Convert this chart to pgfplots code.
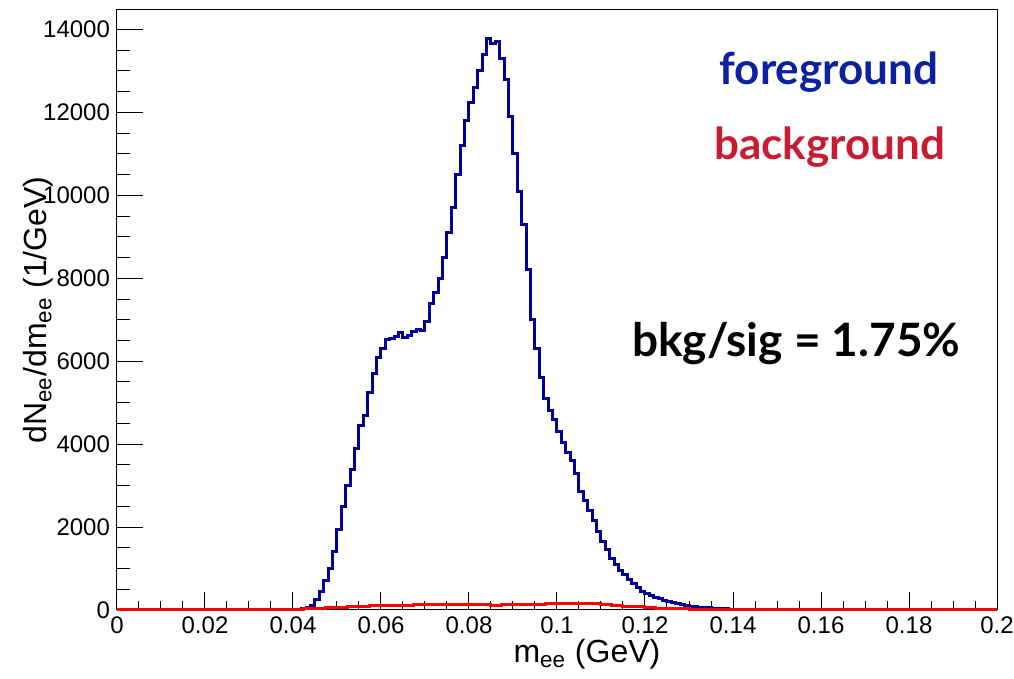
\documentclass[border=0pt]{standalone}
\usepackage{fontspec}
\setmainfont{Liberation Sans}
\newfontfamily\annfont{Lato}
\usepackage{pgfplots}
\pgfplotsset{compat=1.18}
\definecolor{histblue}{RGB}{0,0,153}
\definecolor{histred}{RGB}{255,0,0}
\definecolor{fgblue}{RGB}{12,32,160}
\definecolor{bgred}{RGB}{200,28,50}
\pgfplotsset{
  rootframe/.style={
    scale only axis, width=440pt, height=300pt,
    xmin=0, xmax=0.2, ymin=0, ymax=14470,
    axis line style={line width=0.5pt, black},
    tick align=inside, xtick pos=bottom, ytick pos=left,
    every tick/.style={black, line width=0.5pt},
    scaled x ticks=false, scaled y ticks=false,
    /pgf/number format/assume math mode=true,
    /pgf/number format/set thousands separator={},
    tick label style={font=\fontsize{12}{14}\selectfont},
    clip=false,
  }
}
\begin{document}
\begin{tikzpicture}
\useasboundingbox (-58.5pt,-34.5pt) rectangle (448.5pt,305pt);
% axis with x ticks
\begin{axis}[rootframe,
  xtick={0,0.02,0.04,0.06,0.08,0.1,0.12,0.14,0.16,0.18,0.2},
  xticklabels={0,0.02,0.04,0.06,0.08,0.1,0.12,0.14,0.16,0.18,0.2},
  minor x tick num=3,
  ytick=\empty,
  major tick length=9pt, minor tick length=4.5pt,
]
\end{axis}
% axis with y ticks and data
\begin{axis}[rootframe,
  xtick=\empty,
  ytick={0,2000,4000,6000,8000,10000,12000,14000},
  yticklabels={0,2000,4000,6000,8000,10000,12000,14000},
  minor y tick num=3,
  major tick length=13pt, minor tick length=6.5pt,
  xlabel={m$_{\mathrm{ee}}$ (GeV)},
  ylabel={dN$_{\mathrm{ee}}$/dm$_{\mathrm{ee}}$ (1/GeV)},
  every axis x label/.style={at={(axis description cs:0.534,-0.088)}, anchor=base, font=\fontsize{16}{18}\selectfont},
  every axis y label/.style={at={(axis description cs:-0.09,0.5)}, rotate=90, anchor=center, font=\fontsize{16}{18}\selectfont},
]
\addplot[histblue, line width=1.5pt, const plot mark left] table {
x y
0 0
0.035 0
0.038 5
0.039 8
0.040 10
0.041 20
0.042 35
0.043 60
0.044 110
0.045 250
0.046 450
0.047 700
0.048 1000
0.049 1400
0.050 1950
0.051 2500
0.052 3000
0.053 3400
0.054 3900
0.055 4450
0.056 4700
0.057 5250
0.058 5700
0.059 6100
0.060 6300
0.061 6520
0.062 6550
0.063 6600
0.064 6700
0.065 6580
0.066 6620
0.067 6720
0.068 6770
0.069 6740
0.070 6950
0.071 7400
0.072 7650
0.073 8000
0.074 8500
0.075 9100
0.076 9700
0.077 10500
0.078 11200
0.079 11800
0.080 12250
0.081 12600
0.082 13000
0.083 13400
0.084 13780
0.085 13650
0.086 13720
0.087 13300
0.088 12800
0.089 11900
0.090 11000
0.091 10100
0.092 9300
0.093 8200
0.094 7000
0.095 6300
0.096 5600
0.097 5100
0.098 4800
0.099 4600
0.100 4300
0.101 4050
0.102 3800
0.103 3600
0.104 3300
0.105 2850
0.106 2650
0.107 2400
0.108 2150
0.109 1900
0.110 1650
0.111 1450
0.112 1250
0.113 1100
0.114 960
0.115 850
0.116 730
0.117 640
0.118 540
0.119 450
0.120 390
0.121 340
0.122 300
0.123 270
0.124 240
0.125 200
0.126 175
0.127 150
0.128 125
0.129 105
0.130 90
0.131 78
0.132 68
0.133 58
0.134 50
0.135 42
0.136 35
0.137 30
0.138 25
0.139 20
0.140 16
0.141 12
0.142 9
0.143 6
0.144 4
0.145 2
0.146 0
0.2 0
};
\addplot[histred, line width=1.5pt, const plot mark left] table {
x y
0 0
0.035 2
0.0375 5
0.04 12
0.0425 25
0.045 40
0.0475 55
0.05 70
0.0525 82
0.055 92
0.0575 100
0.06 108
0.0625 112
0.065 118
0.0675 122
0.07 128
0.0725 130
0.075 128
0.0775 126
0.08 124
0.0825 122
0.085 120
0.0875 122
0.09 126
0.0925 132
0.095 138
0.0975 145
0.1 150
0.1025 158
0.105 160
0.1075 148
0.11 130
0.1125 112
0.115 95
0.1175 78
0.12 60
0.1225 46
0.125 35
0.1275 24
0.13 15
0.1325 8
0.135 3
0.1375 0
0.2 0
};
\node[anchor=base, text=fgblue, font=\annfont\bfseries\fontsize{22}{26}\selectfont] at (rel axis cs:0.809,0.875) {foreground};
\node[anchor=base, text=bgred, font=\annfont\bfseries\fontsize{22}{26}\selectfont] at (rel axis cs:0.810,0.75) {background};
\node[anchor=base, text=black, font=\annfont\bfseries\fontsize{23}{27}\selectfont] at (rel axis cs:0.772,0.4217) {bkg/sig = 1.75\%};
\end{axis}
\end{tikzpicture}
\end{document}
